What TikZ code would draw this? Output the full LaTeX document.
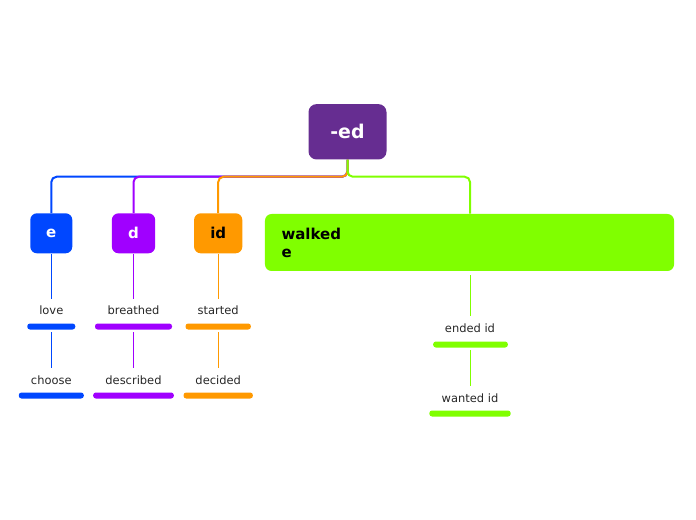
\documentclass[tikz,border=0pt]{standalone}
\usepackage{fontspec}
\setmainfont{DejaVu Sans}
\usetikzlibrary{positioning}

\definecolor{edpurple}{RGB}{102,45,145}
\definecolor{eblue}{RGB}{0,71,255}
\definecolor{dpurple}{RGB}{160,0,255}
\definecolor{idorange}{RGB}{255,153,0}
\definecolor{wgreen}{RGB}{128,255,0}

\begin{document}
\begin{tikzpicture}[x=0.75pt,y=0.75pt,yscale=-1,xscale=1,
    rootbox/.style={fill=edpurple, rounded corners=6pt, text=white, font=\fontsize{14.2}{17}\selectfont\bfseries, minimum width=58.5pt, minimum height=41.5pt, inner sep=0pt},
    catbox/.style={rounded corners=5pt, font=\fontsize{11.25}{13.5}\selectfont\bfseries, minimum height=30pt, inner sep=0pt},
    leaf/.style={anchor=base, font=\fontsize{8.6}{10}\selectfont, text=black!85, inner xsep=0pt, inner ysep=5.5pt},
    bar/.style={rounded corners=2pt, minimum height=4.5pt, inner sep=0pt},
    branch/.style={line width=1.5pt, rounded corners=4pt},
    twig/.style={line width=0.75pt}]
    \useasboundingbox (0,0) rectangle (696,520);

    %Root
    \node[rootbox] (ed) at (347.5,131.8) {-ed};

    %Categories
    \node[catbox, fill=eblue, text=white, minimum width=31.5pt] (e) at (51.3,233.3) {e};
    \node[catbox, fill=dpurple, text=white, minimum width=32.5pt] (d) at (133.5,233.3) {d};
    \node[catbox, fill=idorange, minimum width=36.2pt] (id) at (218.2,233.3) {id};
    \node[catbox, fill=wgreen, minimum height=42.75pt, text width=282pt, align=left, inner xsep=12.4pt] (walked) at (469.5,242.5) {walked\\e};

    %Branches
    \draw[branch, eblue] (ed.south) -- ++(0,17) -| (e.north);
    \draw[branch, dpurple] (ed.south) -- ++(0,17) -| (d.north);
    \draw[branch, idorange] (ed.south) -- ++(0,17) -| (id.north);
    \draw[branch, wgreen] (ed.south) -- ++(0,17) -| (walked.north -| 470,0);

    %e column
    \node[leaf] (love) at (51.3,315) {love};
    \node[bar, fill=eblue, minimum width=36pt] (lovebar) at (51.3,326.5) {};
    \node[leaf] (choose) at (51.3,384) {choose};
    \node[bar, fill=eblue, minimum width=48.75pt] (choosebar) at (51.3,395.5) {};
    \draw[twig, eblue] (e.south) -- (love.north);
    \draw[twig, eblue, shorten <=2pt] (lovebar.south) -- (choose.north);

    %d column
    \node[leaf] (breathed) at (133.5,315) {breathed};
    \node[bar, fill=dpurple, minimum width=57.75pt] (breathedbar) at (133.5,326.5) {};
    \node[leaf] (described) at (133.5,384) {described};
    \node[bar, fill=dpurple, minimum width=60.5pt] (describedbar) at (133.5,395.5) {};
    \draw[twig, dpurple] (d.south) -- (breathed.north);
    \draw[twig, dpurple, shorten <=2pt] (breathedbar.south) -- (described.north);

    %id column
    \node[leaf] (started) at (218.2,315) {started};
    \node[bar, fill=idorange, minimum width=49pt] (startedbar) at (218.2,326.5) {};
    \node[leaf] (decided) at (218.2,384) {decided};
    \node[bar, fill=idorange, minimum width=52pt] (decidedbar) at (218.2,395.5) {};
    \draw[twig, idorange] (id.south) -- (started.north);
    \draw[twig, idorange, shorten <=2pt] (startedbar.south) -- (decided.north);

    %walked column
    \node[leaf] (ended) at (470,332.7) {ended id};
    \node[bar, fill=wgreen, minimum width=56pt] (endedbar) at (470.5,344.5) {};
    \node[leaf] (wanted) at (470,402) {wanted id};
    \node[bar, fill=wgreen, minimum width=61pt] (wantedbar) at (470,413.5) {};
    \draw[twig, wgreen, shorten <=3pt] (walked.south -| ended.north) -- (ended.north);
    \draw[twig, wgreen, shorten <=2pt] (endedbar.south -| ended.north) -- (wanted.north);

\end{tikzpicture}
\end{document}
